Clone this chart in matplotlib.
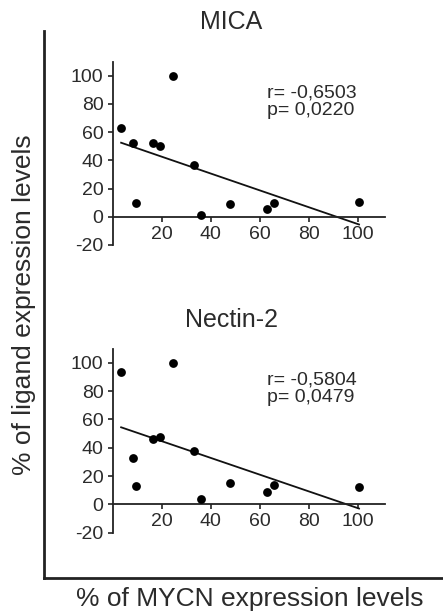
import numpy as np
import matplotlib
matplotlib.use("Agg")
import matplotlib.pyplot as plt

plt.rcParams['font.family'] = ['Liberation Sans', 'DejaVu Sans']
plt.rcParams['axes.unicode_minus'] = False

# % of MYCN expression levels (shared by both panels)
mycn = [3.5, 8.5, 9.6, 16.6, 19.3, 24.5, 33.3, 36.0, 47.8, 62.7, 65.7, 100.3]

# % of ligand expression levels
mica = [62.6, 52.0, 9.5, 52.0, 50.4, 100.0, 37.0, 1.2, 9.0, 5.2, 9.5, 10.2]
nectin2 = [93.6, 32.5, 12.9, 45.9, 47.8, 100.0, 37.6, 3.8, 15.3, 8.9, 13.6, 12.5]

panel_titles = ["MICA", "Nectin-2"]
panel_stats = ["r= -0,6503\np= 0,0220", "r= -0,5804\np= 0,0479"]

x_ticks = [20, 40, 60, 80, 100]
y_ticks = [-20, 0, 20, 40, 60, 80, 100]

text_color = "#2b2b2b"

fig = plt.figure(figsize=(4.43, 6.16), dpi=100)

# Outer frame carrying the shared axis labels
frame = fig.add_axes([0.1, 0.061, 0.9, 0.888])
frame.set_xticks([])
frame.set_yticks([])
for side in ("top", "right"):
    frame.spines[side].set_visible(False)
for side in ("left", "bottom"):
    frame.spines[side].set_linewidth(2.0)
    frame.spines[side].set_color("#222222")
frame.set_xlabel("% of MYCN expression levels", fontsize=19, color=text_color)
frame.xaxis.set_label_coords(0.516, -0.015, transform=frame.transAxes)
frame.xaxis.label.set_va("top")
frame.set_ylabel("% of ligand expression levels", fontsize=19, color=text_color, labelpad=6)

positions = [[0.254, 0.6024, 0.6158, 0.2976], [0.254, 0.1354, 0.6158, 0.2985]]
series = [mica, nectin2]
title_y = [0.965, 0.48]

for pos, yvals, title, stats, ty in zip(positions, series, panel_titles, panel_stats, title_y):
    ax = fig.add_axes(pos)
    ax.patch.set_alpha(0)
    x = np.array(mycn)
    y = np.array(yvals)
    ax.scatter(x, y, s=40, color="black", zorder=3, linewidths=0)
    slope, intercept = np.polyfit(x, y, 1)
    xl = np.array([x.min(), x.max()])
    ax.plot(xl, slope * xl + intercept, color="#111111", lw=1.3, zorder=2)

    ax.set_xlim(0, 111)
    ax.set_ylim(-20, 110)
    ax.spines["top"].set_visible(False)
    ax.spines["right"].set_visible(False)
    ax.spines["bottom"].set_position(("data", 0))
    ax.spines["left"].set_bounds(-20, 110)
    for side in ("left", "bottom"):
        ax.spines[side].set_linewidth(1.3)
        ax.spines[side].set_color("#222222")
    ax.set_xticks(x_ticks)
    ax.set_yticks(y_ticks)
    ax.tick_params(axis="both", labelsize=14, colors="#222222", labelcolor=text_color,
                   length=3.5, width=1.2, direction="out", pad=3)
    ax.text(62.7, 81.5, stats, fontsize=14, color=text_color, va="center", ha="left",
            linespacing=1.05)
    fig.text(0.522, ty, title, fontsize=18, color=text_color, ha="center", va="center")

fig.savefig("out.png", dpi=100)
